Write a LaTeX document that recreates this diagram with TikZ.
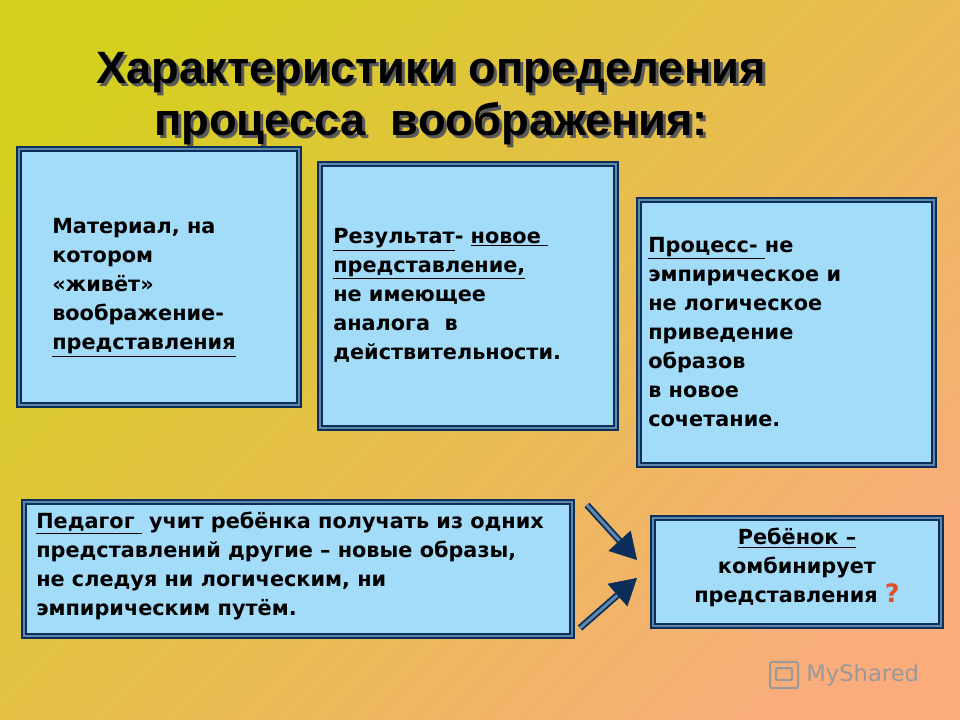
\documentclass[tikz,border=0pt]{standalone}
\usepackage{fontspec}
\setmainfont{DejaVu Sans}
\newfontfamily\titlefont{Liberation Sans}
\usetikzlibrary{arrows.meta,calc}
\definecolor{navy}{HTML}{0B2E5A}
\definecolor{boxfill}{HTML}{A3DCF9}
\definecolor{boxline}{HTML}{4A8CC8}
\definecolor{qcol}{HTML}{E0502A}
\tikzset{
  x=0.75pt,y=-0.75pt,
  txt/.style={font=\bfseries\fontsize{15.6}{21.8}\selectfont,align=left,anchor=north west,inner sep=0pt},
  arr/.style={draw=navy,double=boxline!60!gray,double distance=2.2pt,line width=1.4pt},
  tip/.style={draw=navy,fill=navy,line width=0.4pt,-{Triangle[length=19.5pt,width=22.5pt]}}
}
\newcommand{\bx}[3]{%
  \fill[boxline!60!gray] #1 rectangle #2;
  \draw[navy,line width=1.65pt] #1 rectangle #2;
  \path #1 coordinate (#3a) #2 coordinate (#3b);
  \fill[boxfill] ($(#3a)+(4,4)$) rectangle ($(#3b)+(-4,-4)$);
  \draw[navy,line width=1.05pt] ($(#3a)+(4,4)$) rectangle ($(#3b)+(-4,-4)$);
  \node[inner sep=0pt] (#3) at ($(#3a)!0.5!(#3b)$) {};
}
\begin{document}
\begin{tikzpicture}
\useasboundingbox (0,0) rectangle (960,720);
\shade[left color={rgb,255:red,212;green,208;blue,30},middle color={rgb,255:red,242;green,178;blue,100},right color={rgb,255:red,250;green,172;blue,125},shading angle=45] (-60,-60) rectangle (1020,780);
% title
\foreach \dx/\c in {3/gray!70!black,0/black}{
\node[font=\titlefont\bfseries\fontsize{34}{39}\selectfont,text=\c,align=center,inner sep=0pt] (title\dx) at (431+\dx,99+\dx)
 {Характеристики определения\\процесса\ \ воображения:};}
% boxes
\bx{(17,147)}{(301,407)}{b1}
\bx{(318,162)}{(618,430)}{b2}
\bx{(637,198)}{(936,467)}{b3}
\bx{(22,500)}{(574,638)}{b4}
\bx{(651,516)}{(943,628)}{b5}
\node[txt] (t1) at (52,218) {Материал, на\\котором\\«живёт»\\воображение-\\\underline{представления}};
\node[txt] (t2) at (333,228) {\underline{Результат}- \underline{новое }\\\underline{представление,}\\не имеющее\\аналога\ \ в\\действительности.};
\node[txt] (t3) at (648,237) {\underline{Процесс- }не\\эмпирическое и\\не логическое\\приведение\\образов\\в новое\\сочетание.};
\node[txt] (t4) at (36,512) {\underline{Педагог }\ учит ребёнка получать из одних\\представлений другие – новые образы,\\не следуя ни логическим, ни\\эмпирическим путём.};
\node[txt,align=center,anchor=north] (t5) at (797,528) {\underline{Ребёнок –}\\комбинирует\\представления {\color{qcol}\fontsize{19}{20}\selectfont ?}};
% arrows
\coordinate (a1s) at (587,505); \coordinate (a1e) at (637,560);
\coordinate (a2s) at (580,628); \coordinate (a2e) at (637,578);
\draw[arr] (a1s) -- ($(a1e)!16.5pt!(a1s)$);
\draw[tip] ($(a1e)!15pt!(a1s)$) -- (a1e);
\draw[arr] (a2s) -- ($(a2e)!16.5pt!(a2s)$);
\draw[tip] ($(a2e)!15pt!(a2s)$) -- (a2e);
% watermark
\node[font=\fontsize{17}{20}\selectfont,text=gray!80,anchor=west,inner sep=0pt] (wm) at (806,675) {MyShared};
\draw[gray!80,line width=1.5pt,rounded corners=1.5pt] (770,662) rectangle (798,688) (776,668) rectangle (792,680);
\end{tikzpicture}
\end{document}
